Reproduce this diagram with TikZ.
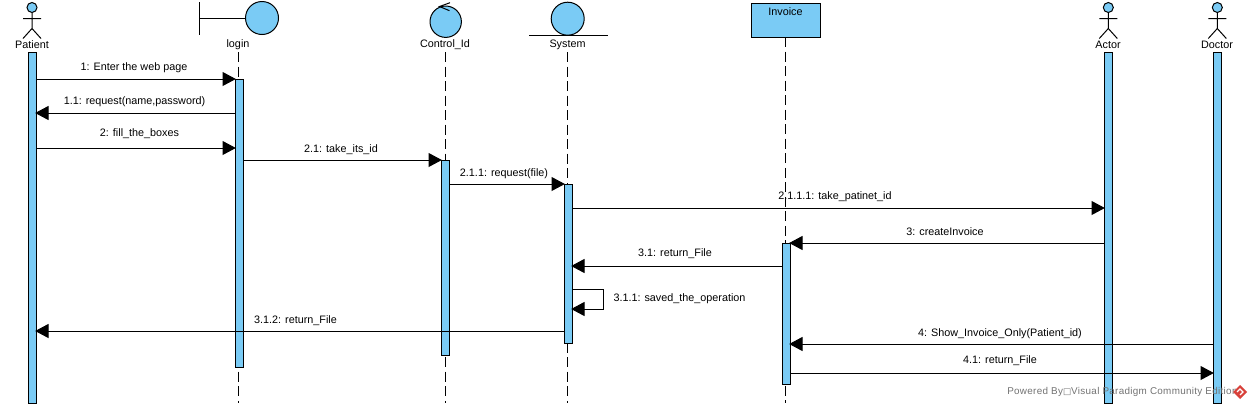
\documentclass[tikz,border=0pt]{standalone}
\usepackage{fontspec}
\setmainfont{Liberation Sans}
\newfontfamily\boxfont{DejaVu Sans}
\usetikzlibrary{arrows.meta}
\definecolor{vpblue}{HTML}{7ACBF5}
\definecolor{vpred}{HTML}{D8413A}
\tikzset{
  x=0.75pt, y=-0.75pt,
  every node/.style={font=\fontsize{8.1pt}{9pt}\selectfont, inner sep=0pt, text=black},
  ln/.style={draw=black, line width=0.75pt},
  bar/.style={draw=black, fill=vpblue, line width=0.75pt, minimum width=6pt, inner sep=0pt, anchor=north},
  shapefill/.style={draw=black, fill=vpblue, line width=0.75pt},
  lifeline/.style={draw=black, line width=0.75pt, dash pattern=on 7.5pt off 3.4pt},
  msg/.style={draw=black, line width=0.75pt, shorten >=-1pt, -{Triangle[length=10pt,width=10.5pt,fill=black]}},
  lab/.style={yshift=-1.1pt},
  wm/.style={font=\fontsize{7.4pt}{9pt}\selectfont\addfontfeature{LetterSpace=3.2}, text=black!55},
}
\newcommand{\stick}[2]{%
  \draw[shapefill] (#1,#2) circle[radius=5];
  \draw[ln] (#1,#2+5) -- (#1,#2+21) (#1-9,#2+11) -- (#1+9,#2+11)
    (#1-9,#2+31) -- (#1,#2+21) -- (#1+9,#2+31);
}
\begin{document}
\begin{tikzpicture}
\useasboundingbox (0,0) rectangle (1251,408);
\fill[white] (0,0) rectangle (1251,408);
% heads
\stick{32}{7.5}
\stick{1108.3}{7.5}
\stick{1217.3}{7.5}
\draw[ln] (199.5,2) -- (199.5,35) (199.5,18) -- (246,18);
\draw[shapefill] (262,18) circle[radius=16.5];
\draw[shapefill] (445.7,21.7) circle[radius=15.7];
\draw[ln] (450,2.7) -- (439.5,6.5) -- (449.5,10.7);
\draw[shapefill] (567.7,18.7) circle[radius=16.5];
\draw[ln] (529,35) -- (608,35);
\node[shapefill, anchor=north west, minimum width=51.75pt, minimum height=25.9pt] (inv) at (751,2.5) {};
\node (invt) at (785.5,10) [lab] {Invoice};
% names
\node (patn) at (32,45) {Patient};
\node (logn) at (238,45) {login};
\node (conn) at (445,45) {Control\_Id};
\node (sysn) at (567.5,45) {System};
\node (actn) at (1108,45) {Actor};
\node (docn) at (1217,45) {Doctor};
% ends of lifelines
\coordinate (logend) at (238.5,403);
\coordinate (conend) at (445,403);
\coordinate (sysend) at (567.5,403);
\coordinate (invend) at (785.5,403);
\draw[lifeline] (238.5,52) -- (logend);
\draw[lifeline] (445,52) -- (conend);
\draw[lifeline] (567.5,52) -- (sysend);
\draw[lifeline] (785.5,37) -- (invend);
% activations
\node[bar, minimum height=263.25pt] (pat) at (32,52) {};
\node[bar, minimum height=216pt] (log) at (239,79) {};
\node[bar, minimum height=146.25pt] (con) at (445,160) {};
\node[bar, minimum height=119.25pt] (sys) at (568,184) {};
\node[bar, minimum height=105.75pt] (ivb) at (786,243) {};
\node[bar, minimum height=263.25pt] (act) at (1108,52) {};
\node[bar, minimum height=263.25pt] (doc) at (1217,52) {};
% messages
\draw[msg] (pat.east |- 0,79) -- (log.west |- 0,79);
\draw[msg] (log.west |- 0,113) -- (pat.east |- 0,113);
\draw[msg] (pat.east |- 0,148) -- (log.west |- 0,148);
\draw[msg] (log.east |- 0,160) -- (con.west |- 0,160);
\draw[msg] (con.east |- 0,184) -- (sys.west |- 0,184);
\draw[msg] (sys.east |- 0,208) -- (act.west |- 0,208);
\draw[msg] (act.west |- 0,243) -- (ivb.east |- 0,243);
\draw[msg] (ivb.west |- 0,266) -- (sys.east |- 0,266);
\draw[msg] (sys.east |- 0,289) -- (603,289) -- (603,309) -- (sys.east |- 0,309);
\draw[msg] (sys.west |- 0,331) -- (pat.east |- 0,331);
\draw[msg] (doc.west |- 0,344) -- (ivb.east |- 0,344);
\draw[msg] (ivb.east |- 0,373) -- (doc.west |- 0,373);
% labels
\node[lab] (m1) at (134,66) {1: Enter the web page};
\node[lab] (m2) at (134.5,100) {1.1: request(name,password)};
\node[lab] (m3) at (139.5,132) {2: fill\_the\_boxes};
\node[lab] (m4) at (341,148) {2.1: take\_its\_id};
\node[lab] (m5) at (504,172) {2.1.1: request(file)};
\node[lab] (m6) at (835,195) {2.1.1.1: take\_patinet\_id};
\node[lab] (m7) at (945,230) {3: createInvoice};
\node[lab] (m8) at (675,252) {3.1: return\_File};
\node[lab] (m9) at (679.5,297) {3.1.1: saved\_the\_operation};
\node[lab] (m10) at (295.5,319) {3.1.2: return\_File};
\node[lab] (m11) at (1000,332) {4: Show\_Invoice\_Only(Patient\_id)};
\node[lab] (m12) at (1000,359) {4.1: return\_File};
% watermark
\node[wm, anchor=west] (wmark) at (1007,392) {Powered By{\boxfont\fontsize{6.5pt}{9pt}\selectfont □}Visual Paradigm Community Edition};
\fill[vpred] (1240,385) -- (1247,392) -- (1240,399) -- (1233,392) -- cycle;
\draw[white, line width=0.9pt] (1237,392) -- (1240,389) -- (1243,392) -- (1240,395);
\end{tikzpicture}
\end{document}
